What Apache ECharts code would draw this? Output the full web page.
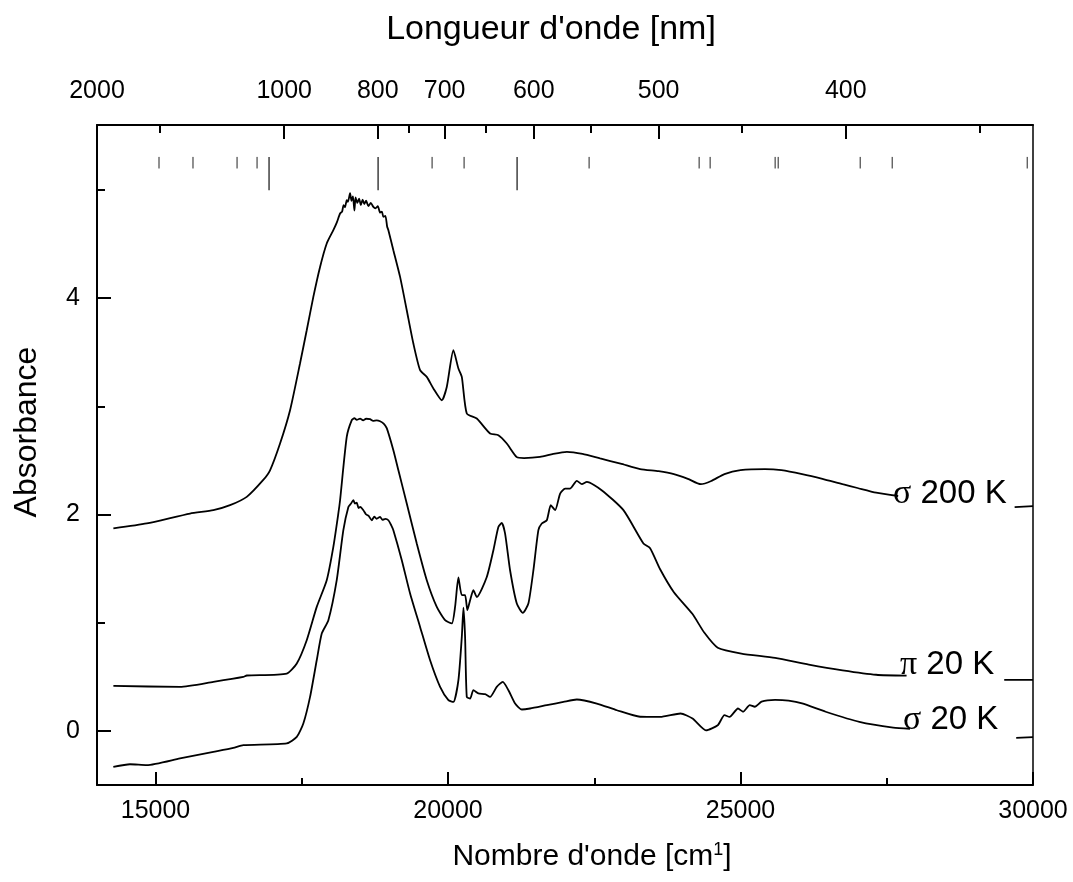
<!DOCTYPE html>
<html>
<head>
<meta charset="utf-8">
<script src="https://cdn.jsdelivr.net/npm/echarts@6/dist/echarts.min.js"></script>
<style>
html,body{margin:0;padding:0;background:#fff;}
#chart{width:1073px;height:882px;}
</style>
</head>
<body>
<div id="chart"></div>
<script>
// ---- Data (wavenumber cm-1, absorbance) ----
const sigma200K = [
[14280,1.871],[14850,1.917],[15590,2.009],[15989,2.040],[16274,2.086],[16560,2.163],[16838,2.317],[16958,2.409],
[17129,2.656],[17300,2.964],[17471,3.398],[17585,3.703],[17698,4.011],[17813,4.288],[17927,4.505],[18040,4.628],
[18100,4.70],[18155,4.782],[18190,4.80],[18215,4.86],[18240,4.84],[18269,4.905],[18290,4.89],[18326,4.97],
[18350,4.90],[18375,4.94],[18400,4.81],[18420,4.93],[18450,4.88],[18480,4.92],[18510,4.86],[18540,4.91],
[18570,4.87],[18600,4.90],[18640,4.85],[18680,4.88],[18724,4.843],[18760,4.83],[18800,4.85],[18840,4.79],
[18870,4.80],[18895,4.75],[18930,4.76],[18960,4.66],[18981,4.628],[19066,4.443],[19181,4.196],[19295,3.888],
[19408,3.580],[19523,3.334],[19637,3.272],[19750,3.165],[19894,3.056],[19979,3.179],[20092,3.518],[20178,3.349],
[20236,3.272],[20321,2.933],[20492,2.887],[20719,2.749],[20861,2.733],[21005,2.656],[21176,2.530],[21300,2.522],
[21574,2.532],[21800,2.560],[22031,2.579],[22300,2.560],[22600,2.518],[22950,2.470],[23284,2.420],[23600,2.400],
[23861,2.374],[24100,2.330],[24322,2.280],[24500,2.310],[24726,2.374],[25000,2.410],[25418,2.420],[25700,2.410],
[26053,2.374],[26400,2.330],[26745,2.280],[27000,2.245],[27319,2.202],[27695,2.171],[27800,null],[29686,2.068],[30000,2.077]
];
const pi20K = [
[14280,0.416],[15419,0.407],[15989,0.453],[16501,0.499],[16560,0.512],[17243,0.530],[17415,0.623],[17585,0.838],
[17756,1.146],[17927,1.393],[18040,1.701],[18126,2.012],[18155,2.132],[18269,2.717],[18355,2.872],[18400,2.89],
[18440,2.875],[18497,2.887],[18550,2.87],[18600,2.885],[18668,2.881],[18720,2.865],[18780,2.87],[18839,2.862],
[18900,2.84],[18953,2.798],[19066,2.594],[19152,2.409],[19295,2.102],[19466,1.732],[19637,1.393],[19808,1.146],
[19950,1.023],[20065,0.993],[20121,1.146],[20178,1.418],[20236,1.254],[20292,1.254],[20331,1.116],[20378,1.208],
[20434,1.300],[20492,1.238],[20663,1.423],[20776,1.670],[20861,1.885],[20919,1.922],[20976,1.824],[21061,1.485],
[21176,1.177],[21279,1.091],[21374,1.177],[21460,1.485],[21545,1.855],[21603,1.917],[21689,1.947],[21757,2.086],
[21831,2.040],[21917,2.194],[22002,2.240],[22088,2.240],[22202,2.311],[22289,2.280],[22374,2.301],[22626,2.225],
[22999,2.040],[23341,1.732],[23455,1.689],[23626,1.494],[23861,1.282],[24180,1.080],[24380,0.909],[24611,0.769],
[25015,0.715],[25591,0.675],[26167,0.613],[26745,0.560],[27319,0.519],[27839,0.510],[27900,null],[29508,0.472],[30000,0.472]
];
const sigma20K = [
[14279,-0.333],[14564,-0.308],[14850,-0.317],[15419,-0.255],[15989,-0.194],[16330,-0.157],[16501,-0.132],[17243,-0.116],
[17415,-0.055],[17527,0.068],[17642,0.314],[17756,0.653],[17842,0.900],[17955,1.023],[18098,1.393],[18211,1.855],
[18297,2.070],[18340,2.10],[18382,2.132],[18410,2.10],[18440,2.11],[18470,2.06],[18500,2.07],[18553,2.040],
[18600,2.00],[18640,1.99],[18697,1.947],[18740,1.98],[18780,1.96],[18839,1.978],[18880,1.95],[18930,1.96],
[18981,1.947],[19030,1.90],[19066,1.855],[19210,1.578],[19352,1.270],[19523,0.961],[19694,0.653],[19865,0.407],
[20007,0.284],[20092,0.268],[20178,0.469],[20236,0.869],[20264,1.139],[20292,0.869],[20321,0.314],[20378,0.299],
[20434,0.376],[20519,0.346],[20634,0.339],[20719,0.314],[20833,0.407],[20937,0.453],[21033,0.376],[21147,0.253],
[21262,0.198],[21403,0.207],[21689,0.238],[21973,0.268],[22202,0.290],[22544,0.253],[22886,0.191],[23284,0.131],
[23626,0.129],[23976,0.161],[24180,0.114],[24410,0.005],[24611,0.052],[24726,0.145],[24813,0.129],[24957,0.207],
[25044,0.177],[25158,0.238],[25245,0.223],[25360,0.270],[25591,0.286],[25822,0.279],[26053,0.254],[26456,0.177],
[27032,0.083],[27610,0.030],[27897,0.020],[28000,null],[29713,-0.064],[30000,-0.058]
];
// reference transition markers (wavenumber)
const markerShort = [15060,15641,16394,16736,19728,20275,22412,24293,24481,25592,25644,27046,27593,29901];
const markerLong = [16941,18805,21181];
const markerTop = 5.305, markerShortBottom = 5.198, markerLongBottom = 4.997;

// ---- Axis ticks ----
const bottomMajor = [15000,20000,25000,30000];
const bottomMinor = [17500,22500,27500];
const topMajorNm = [2000,1000,800,700,600,500,400];
const topMinorNm = [1500,750,650,550,450,350];
const yMajor = [0,2,4];
const yMinor = [1,3,5];

const curveLabels = [
  {sym:'σ', txt:' 200 K', x:893, y:494},
  {sym:'π', txt:' 20 K', x:900, y:665},
  {sym:'σ', txt:' 20 K', x:903, y:720}
];

function segs(xs, y0, y1){
  const out=[];
  xs.forEach(x=>{out.push([x,y0]);out.push([x,y1]);out.push([x,null]);});
  return out;
}

const chart = echarts.init(document.getElementById('chart'), null, {renderer:'canvas'});
const FONT = '"Liberation Sans", Arial, sans-serif';
const axLine = {show:true, onZero:false, lineStyle:{color:'#000', width:2}};
const noLine = {show:false, onZero:false};

const lineSeries = (name, data) => ({
  name, type:'line', data, showSymbol:false, symbol:'none', silent:true,
  connectNulls:false, animation:false, smooth:0.2,
  lineStyle:{color:'#000', width:1.8}, xAxisIndex:0, yAxisIndex:0
});

const option = {
  backgroundColor:'#fff',
  animation:false,
  grid:{left:97, right:40, top:125, bottom:97, containLabel:false, outerBoundsMode:'none'},
  xAxis:[
    {type:'value', position:'bottom', min:14000, max:30000, axisLine:axLine,
     axisTick:{show:true, inside:true, length:13, lineStyle:{width:2,color:'#000'}, customValues:bottomMajor},
     axisLabel:{show:true, customValues:bottomMajor, fontSize:25, color:'#000', fontFamily:FONT, margin:14,
       formatter:v=>String(v)},
     splitLine:{show:false}},
    {type:'value', position:'bottom', min:14000, max:30000, axisLine:noLine,
     axisTick:{show:true, inside:true, length:7, lineStyle:{width:2,color:'#000'}, customValues:bottomMinor},
     axisLabel:{show:false}, splitLine:{show:false}},
    {type:'value', position:'top', min:5000, max:30000, axisLine:axLine,
     axisTick:{show:true, inside:true, length:14, lineStyle:{width:2,color:'#000'}, customValues:topMajorNm.map(n=>1e7/n)},
     axisLabel:{show:true, customValues:topMajorNm.map(n=>1e7/n), fontSize:25, color:'#000', fontFamily:FONT, margin:21,
       formatter:v=>String(Math.round(1e7/v))},
     splitLine:{show:false}},
    {type:'value', position:'top', min:5000, max:30000, axisLine:noLine,
     axisTick:{show:true, inside:true, length:8, lineStyle:{width:2,color:'#000'}, customValues:topMinorNm.map(n=>1e7/n)},
     axisLabel:{show:false}, splitLine:{show:false}}
  ],
  yAxis:[
    {type:'value', position:'left', min:-0.5, max:5.6, axisLine:axLine,
     axisTick:{show:true, inside:true, length:14, lineStyle:{width:2,color:'#000'}, customValues:yMajor},
     axisLabel:{show:true, customValues:yMajor, fontSize:25, color:'#000', fontFamily:FONT, margin:17},
     splitLine:{show:false}},
    {type:'value', position:'left', min:-0.5, max:5.6, axisLine:noLine,
     axisTick:{show:true, inside:true, length:8, lineStyle:{width:2,color:'#000'}, customValues:yMinor},
     axisLabel:{show:false}, splitLine:{show:false}},
    {type:'value', position:'right', min:-0.5, max:5.6, axisLine:{show:true, onZero:false, lineStyle:{color:'#000', width:1.5}},
     axisTick:{show:false}, axisLabel:{show:false}, splitLine:{show:false}}
  ],
  series:[
    lineSeries('σ 200 K', sigma200K),
    lineSeries('π 20 K', pi20K),
    lineSeries('σ 20 K', sigma20K),
    {type:'line', data:segs(markerShort, markerShortBottom, markerTop), showSymbol:false, symbol:'none', silent:true,
     connectNulls:false, lineStyle:{color:'#222', width:1}},
    {type:'line', data:segs(markerLong, markerLongBottom, markerTop), showSymbol:false, symbol:'none', silent:true,
     connectNulls:false, lineStyle:{color:'#222', width:1.3}}
  ],
  graphic:[
    {type:'text', x:551, y:30, style:{text:"Longueur d'onde [nm]", font:'34px '+FONT, fill:'#000', textAlign:'center', textVerticalAlign:'middle'}},
    {type:'text', x:592, y:857, style:{text:"{a|Nombre d'onde [cm}{s|1}{a|]}", fill:'#000', textAlign:'center', textVerticalAlign:'middle',
      rich:{a:{fontSize:30, fontFamily:FONT, fill:'#000'}, s:{fontSize:18, fontFamily:FONT, fill:'#000', verticalAlign:'top', padding:[0,0,14,0]}}}},
    {type:'text', x:27, y:432, rotation:Math.PI/2, style:{text:'Absorbance', font:'32px '+FONT, fill:'#000', textAlign:'center', textVerticalAlign:'middle'}}
  ].concat(curveLabels.map(l=>({
    type:'text', x:l.x, y:l.y, style:{text:'{g|'+l.sym+'}{t|'+l.txt+'}', textAlign:'left', textVerticalAlign:'middle',
      rich:{g:{fontSize:34, fontFamily:'"Liberation Serif", serif', fill:'#000'}, t:{fontSize:33, fontFamily:FONT, fill:'#000'}}}
  })))
};
chart.setOption(option);
</script>
</body>
</html>
